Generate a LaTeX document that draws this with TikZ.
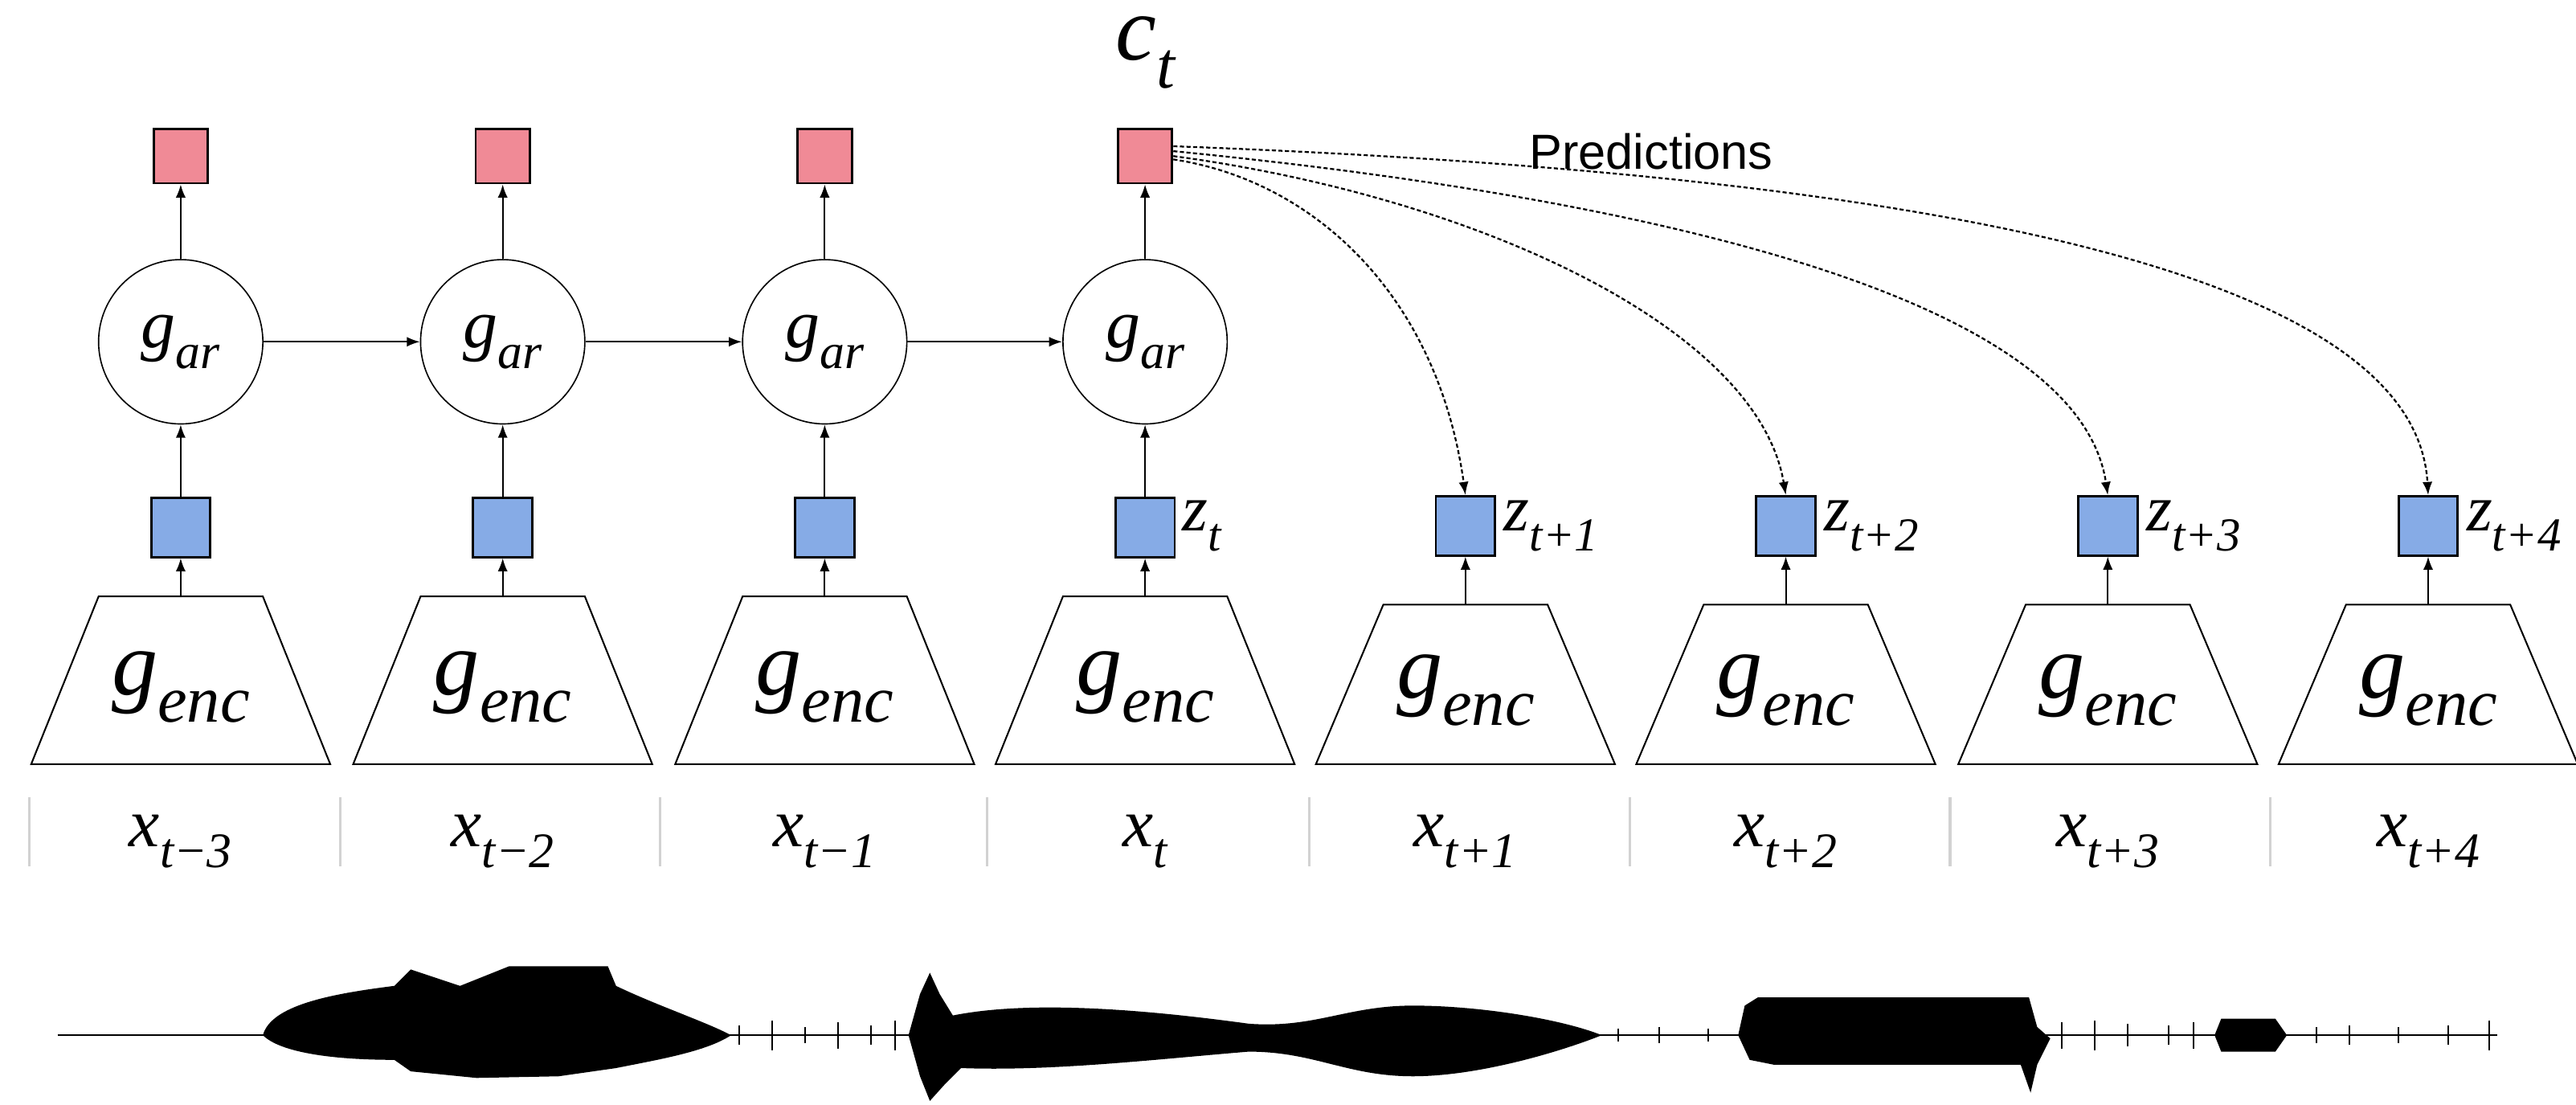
\documentclass[tikz,border=0pt]{standalone}
\usepackage{fontspec}
\setmainfont{Liberation Serif}
\newfontfamily\mysans{Liberation Sans}
\newcommand{\mysub}[3]{{\fontsize{#3}{#3}\selectfont\itshape #1\raisebox{-0.3em}{\fontsize{0.72\dimexpr#3\relax}{1pt}\selectfont #2}}}
\usetikzlibrary{arrows.meta}
\begin{document}
\begin{tikzpicture}[x=1pt,y=-1pt,
  red/.style={draw,line width=1.4pt,fill={rgb,255:red,240;green,138;blue,150},minimum size=33pt,inner sep=0pt},
  blue/.style={draw,line width=1.4pt,fill={rgb,255:red,134;green,171;blue,230},minimum size=36pt,inner sep=0pt},
  ar/.style={draw,circle,line width=0.8pt,minimum size=100pt,inner sep=0pt},
  arr/.style={-{Latex[length=8pt,width=6pt]},line width=1pt},
  pred/.style={-{Latex[length=8pt,width=6pt]},line width=1.1pt,dash pattern=on 2.5pt off 1.5pt},
  sep/.style={draw={rgb,255:red,210;green,210;blue,210},line width=1.5pt}]
\useasboundingbox (0,0) rectangle (1568,672);
\foreach \i/\x in {1/110,2/306,3/502,4/697}{
  \node[red] (r\i) at (\x,95) {};
  \node[ar] (g\i) at (\x,208) {\mysub{g}{ar}{42pt}};
  \node[blue] (b\i) at (\x,321) {};
  \draw[line width=1pt] (\x-50,363) -- (\x+50,363) -- (\x+91,465) -- (\x-91,465) -- cycle;
  \node (e\i) at (\x,418) {\mysub{g}{enc}{56pt}};
  \coordinate (t\i) at (\x,363);
  \draw[arr] (t\i) -- (b\i);
  \draw[arr] (b\i) -- (g\i);
  \draw[arr] (g\i) -- (r\i);
}
\node (x1) at (110,512) {\mysub{x}{t−3}{42pt}};
\node (x2) at (306,512) {\mysub{x}{t−2}{42pt}};
\node (x3) at (502,512) {\mysub{x}{t−1}{42pt}};
\node (x4) at (697,512) {\mysub{x}{t}{42pt}};
\draw[arr] (g1) -- (g2); \draw[arr] (g2) -- (g3); \draw[arr] (g3) -- (g4);
\node[anchor=west] (zt) at (716,320) {\mysub{z}{t}{40pt}};
\node (ct) at (697,32) {\mysub{c}{t}{56pt}};
\node[font=\mysans\fontsize{30}{30}\selectfont] (pr) at (1005,92) {Predictions};
\foreach \i/\x/\l in {5/892/{t+1},6/1087/{t+2},7/1283/{t+3},8/1478/{t+4}}{
  \node[blue] (b\i) at (\x,320) {};
  \draw[line width=1pt] (\x-50,368) -- (\x+50,368) -- (\x+91,465) -- (\x-91,465) -- cycle;
  \node (e\i) at (\x,420) {\mysub{g}{enc}{56pt}};
  \coordinate (t\i) at (\x,368);
  \node (x\i) at (\x,512) {\mysub{x}{\l}{42pt}};
  \node[anchor=west] (z\i) at (\x+20,320) {\mysub{z}{\l}{40pt}};
  \draw[arr] (t\i) -- (b\i);
}
\draw[pred] (r4.east) ++(0,2) .. controls (800,110) and (875,180) .. (b5.north);
\draw[pred] (r4.east) ++(0,0) .. controls (900,120) and (1070,200) .. (b6.north);
\draw[pred] (r4.east) ++(0,-3) .. controls (1000,120) and (1265,180) .. (b7.north);
\draw[pred] (r4.east) ++(0,-6) .. controls (1150,105) and (1470,160) .. (b8.north);
\foreach \x in {18,207,402,601,797,992,1187,1382}{\draw[sep] (\x,485) -- (\x,527);}
\draw[line width=1.2pt] (35,630) -- (1520,630);
\fill (160,630) .. controls (165,612) and (200,605) .. (240,600) -- (250,590) -- (280,600) -- (310,588) -- (370,588) -- (375,600) .. controls (400,612) and (430,622) .. (445,630)
  .. controls (430,640) and (400,645) .. (375,650) -- (340,655) -- (290,656) -- (250,652) -- (240,645) .. controls (200,645) and (170,640) .. (160,630) -- cycle;
\fill (553,630) -- (560,605) -- (566,592) -- (572,605) -- (580,618) .. controls (620,610) and (680,612) .. (760,623) .. controls (800,626) and (820,612) .. (860,612) .. controls (900,612) and (950,620) .. (975,630)
  .. controls (950,640) and (900,655) .. (860,655) .. controls (820,655) and (800,640) .. (760,640) .. controls (700,645) and (640,652) .. (585,650) -- (575,660) -- (566,670) -- (560,655) -- cycle;
\fill (1058,630) -- (1062,612) -- (1070,607) -- (1235,607) -- (1240,625) -- (1248,632) -- (1240,648) -- (1236,665) -- (1230,648) -- (1080,648) -- (1065,645) -- cycle;
\fill (1348,630) -- (1352,620) -- (1385,620) -- (1392,630) -- (1385,640) -- (1352,640) -- cycle;
\foreach \x/\a in {450/6,470/9,490/5,510/8,530/6,545/9,985/4,1010/5,1040/4,1255/8,1275/9,1295/7,1320/6,1335/8,1410/5,1430/6,1460/5,1490/6,1515/9}{
  \draw[line width=1pt] (\x,630-\a) -- (\x,630+\a);}
\end{tikzpicture}
\end{document}
